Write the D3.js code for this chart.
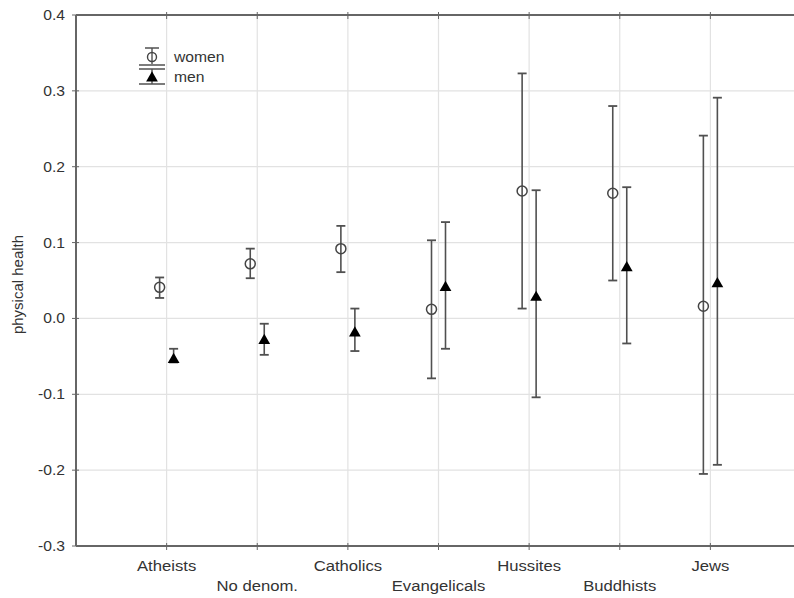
<!DOCTYPE html>
<html><head><meta charset="utf-8">
<script src="https://cdn.jsdelivr.net/npm/d3@7"></script>
<style>body{margin:0;background:#fff;} svg{display:block;} text{font-family:"Liberation Sans",Arial,sans-serif;fill:#333;}</style>
</head><body>
<svg id="c" width="794" height="598"></svg>
<script>
const categories = ["Atheists","No denom.","Catholics","Evangelicals","Hussites","Buddhists","Jews"];
const womenMean = [0.041, 0.072, 0.092, 0.012, 0.168, 0.165, 0.016];
const womenLow  = [0.027, 0.053, 0.061, -0.079, 0.013, 0.050, -0.205];
const womenHigh = [0.054, 0.092, 0.122, 0.103, 0.323, 0.280, 0.241];
const menMean   = [-0.053, -0.028, -0.018, 0.042, 0.029, 0.068, 0.047];
const menLow    = [-0.058, -0.048, -0.043, -0.040, -0.104, -0.033, -0.193];
const menHigh   = [-0.040, -0.007, 0.013, 0.127, 0.169, 0.173, 0.291];
const yTicks = [-0.3,-0.2,-0.1,0.0,0.1,0.2,0.3,0.4];
const yTickLabels = ["-0.3","-0.2","-0.1","0.0","0.1","0.2","0.3","0.4"];
const seriesNames = ["women","men"];

const svg = d3.select("#c");
const L = 76, R = 801, T = 15, B = 546;
const x = d3.scalePoint().domain(categories).range([L, R]).padding(1);
const y = d3.scaleLinear().domain([-0.3, 0.4]).range([B, T]);
const off = 7;
const axisCol = "#666", barCol = "#505050";

// grid
const g = svg.append("g");
g.selectAll(".hg").data(yTicks).join("line")
  .attr("x1", L).attr("x2", 794).attr("y1", d => y(d)).attr("y2", d => y(d))
  .attr("stroke", "#e2e2e2").attr("stroke-width", 1.2);
g.selectAll(".vg").data(categories).join("line")
  .attr("x1", d => x(d)).attr("x2", d => x(d)).attr("y1", T).attr("y2", B)
  .attr("stroke", "#e2e2e2").attr("stroke-width", 1.2);

// frame
svg.append("line").attr("x1", L).attr("x2", 794).attr("y1", T).attr("y2", T).attr("stroke", axisCol).attr("stroke-width", 2);
svg.append("line").attr("x1", L).attr("x2", 794).attr("y1", B).attr("y2", B).attr("stroke", axisCol).attr("stroke-width", 2);
svg.append("line").attr("x1", L).attr("x2", L).attr("y1", T).attr("y2", B).attr("stroke", axisCol).attr("stroke-width", 2);

// y axis ticks & labels
svg.selectAll(".yt").data(yTicks).join("line")
  .attr("x1", L-4).attr("x2", L+3).attr("y1", d => y(d)).attr("y2", d => y(d))
  .attr("stroke", axisCol).attr("stroke-width", 1);
svg.selectAll(".yl").data(yTicks).join("text")
  .attr("transform", d => `translate(${L-11},${y(d)}) scale(1.12,1)`)
  .attr("text-anchor", "end").attr("dy", "0.36em")
  .style("font-size", "14px")
  .text((d,i) => yTickLabels[i]);

// x ticks
svg.selectAll(".xt").data(categories).join("line")
  .attr("x1", d => x(d)).attr("x2", d => x(d)).attr("y1", B-3).attr("y2", B+4)
  .attr("stroke", axisCol).attr("stroke-width", 1);
svg.selectAll(".xtt").data(categories).join("line")
  .attr("x1", d => x(d)).attr("x2", d => x(d)).attr("y1", T-3).attr("y2", T+4)
  .attr("stroke", axisCol).attr("stroke-width", 1);
svg.selectAll(".xl").data(categories).join("text")
  .attr("transform", (d,i) => `translate(${x(d)},${i % 2 ? 591 : 571}) scale(1.15,1)`)
  .attr("text-anchor", "middle")
  .style("font-size", "14.5px")
  .text(d => d);

// y title
svg.append("text")
  .attr("transform", `translate(23,${(T+B)/2 + 4}) rotate(-90)`)
  .attr("text-anchor", "middle")
  .style("font-size", "15px")
  .text("physical health");

// error bars
function errBars(means, lows, highs, dx, capW) {
  const gg = svg.append("g");
  categories.forEach((c, i) => {
    const cx = x(c) + dx;
    gg.append("line").attr("x1", cx).attr("x2", cx).attr("y1", y(lows[i])).attr("y2", y(highs[i]))
      .attr("stroke", barCol).attr("stroke-width", 1.6);
    [lows[i], highs[i]].forEach(v => {
      gg.append("line").attr("x1", cx - capW/2).attr("x2", cx + capW/2).attr("y1", y(v)).attr("y2", y(v))
        .attr("stroke", barCol).attr("stroke-width", 1.8);
    });
  });
  return gg;
}
errBars(womenMean, womenLow, womenHigh, -off, 9);
errBars(menMean, menLow, menHigh, off, 9);

const tri = d3.symbol().type(d3.symbolTriangle).size(60);
svg.selectAll(".wp").data(categories).join("circle")
  .attr("cx", d => x(d) - off).attr("cy", (d,i) => y(womenMean[i])).attr("r", 5)
  .attr("fill", "none").attr("stroke", "#444").attr("stroke-width", 1.5);
svg.selectAll(".mp").data(categories).join("path")
  .attr("d", tri)
  .attr("transform", (d,i) => `translate(${x(d) + off},${y(menMean[i]) + 1})`)
  .attr("fill", "#000");

// legend
const lg = svg.append("g");
const lx = 152;
// women
lg.append("line").attr("x1", lx).attr("x2", lx).attr("y1", 48).attr("y2", 64).attr("stroke", barCol).attr("stroke-width", 1.4);
lg.append("line").attr("x1", lx-7).attr("x2", lx+7).attr("y1", 48).attr("y2", 48).attr("stroke", barCol).attr("stroke-width", 1.5);
lg.append("line").attr("x1", lx-13).attr("x2", lx+13).attr("y1", 65).attr("y2", 65).attr("stroke", barCol).attr("stroke-width", 1.5);
lg.append("circle").attr("cx", lx).attr("cy", 57).attr("r", 4.5).attr("fill", "none").attr("stroke", "#444").attr("stroke-width", 1.4);
// men
lg.append("line").attr("x1", lx).attr("x2", lx).attr("y1", 69).attr("y2", 84).attr("stroke", barCol).attr("stroke-width", 1.4);
lg.append("line").attr("x1", lx-13).attr("x2", lx+13).attr("y1", 69).attr("y2", 69).attr("stroke", barCol).attr("stroke-width", 1.5);
lg.append("line").attr("x1", lx-13).attr("x2", lx+13).attr("y1", 84).attr("y2", 84).attr("stroke", barCol).attr("stroke-width", 1.5);
lg.append("path").attr("d", tri).attr("transform", `translate(${lx},78)`).attr("fill", "#000");
lg.selectAll(".lt").data(seriesNames).join("text")
  .attr("transform", (d,i) => `translate(174,${57 + i*20}) scale(1.12,1)`)
  .attr("dy", "0.36em").style("font-size", "14px")
  .text(d => d);
</script>
</body></html>
